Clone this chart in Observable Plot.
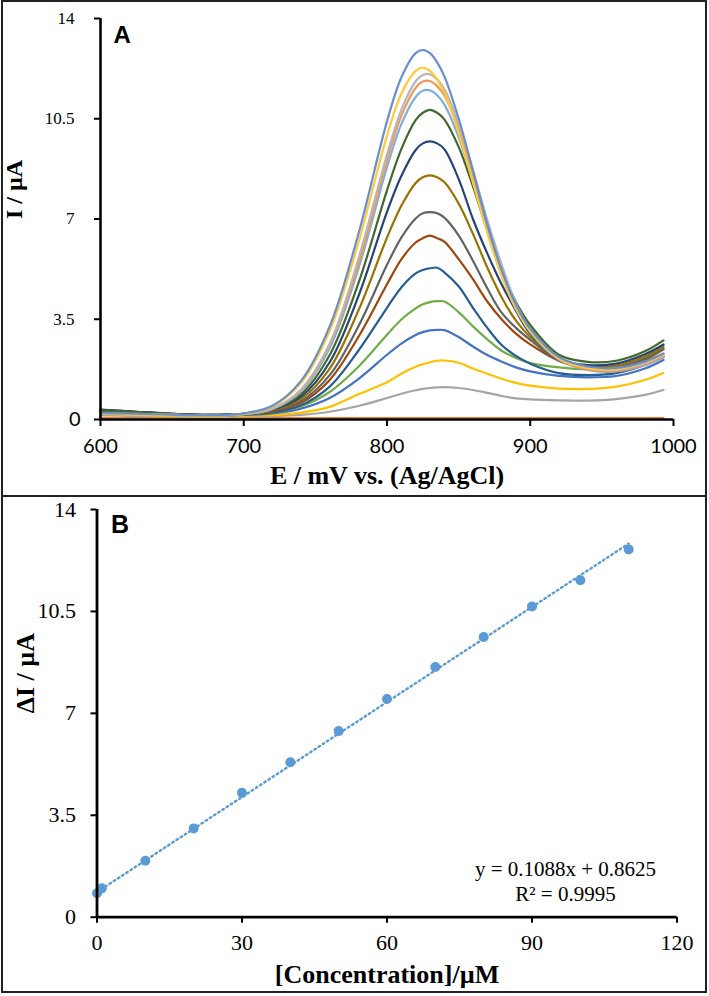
<!DOCTYPE html>
<html><head><meta charset="utf-8">
<script src="https://cdn.jsdelivr.net/npm/d3@7"></script>
<script src="https://cdn.jsdelivr.net/npm/@observablehq/plot@0.6"></script>
<style>
body{margin:0;background:#fff;}
#wrap{position:relative;width:709px;height:996px;overflow:hidden;background:#fff;}
.panel{position:absolute;left:0;width:709px;}
.box{position:absolute;border:2px solid #222;box-sizing:border-box;pointer-events:none;}
svg{overflow:visible;}
</style></head><body>
<div id="wrap">
  <div id="pa" class="panel" style="top:0px"></div>
  <div id="pb" class="panel" style="top:496px"></div>
  <div class="box" style="left:1px;top:0px;width:706px;height:497px"></div>
  <div class="box" style="left:1px;top:495px;width:706px;height:498px"></div>
</div>
<script>
// ---------- Panel A data: DPV curves (I / µA vs E / mV) ----------
const potential = [600, 625, 650, 675, 700, 720, 740, 760, 780, 800, 810, 820, 825, 830, 835, 840, 850, 860, 870, 880, 890, 900, 920, 940, 960, 980, 993];

const curveNames  = ["c16","c15","c14","c13","c12","c11","c10","c9","c8","c7","c6","c5","c4","c3","c2","c1"];
const curveColors = ["#ED7D31","#A5A5A5","#FFC000","#4472C4","#70AD47","#255E91","#9E480E","#636363","#997300","#264478","#43682B","#7CAFDD","#F1975A","#B7B7B7","#FFC93A","#698ED0"];

const c16 = [0.06, 0.06, 0.05, 0.05, 0.05, 0.05, 0.05, 0.05, 0.05, 0.05, 0.05, 0.05, 0.05, 0.05, 0.05, 0.05, 0.05, 0.05, 0.05, 0.05, 0.05, 0.05, 0.05, 0.05, 0.05, 0.05, 0.05];
const c15 = [0.15, 0.12, 0.10, 0.09, 0.10, 0.12, 0.16, 0.27, 0.47, 0.75, 0.90, 1.02, 1.07, 1.10, 1.12, 1.13, 1.10, 1.03, 0.93, 0.82, 0.74, 0.70, 0.67, 0.66, 0.71, 0.86, 1.03];
const c14 = [0.20, 0.16, 0.13, 0.11, 0.13, 0.16, 0.24, 0.44, 0.88, 1.30, 1.60, 1.84, 1.93, 2.00, 2.05, 2.06, 1.98, 1.78, 1.60, 1.42, 1.28, 1.18, 1.08, 1.07, 1.15, 1.38, 1.62];
const c13 = [0.25, 0.20, 0.16, 0.13, 0.16, 0.21, 0.38, 0.75, 1.41, 2.26, 2.65, 2.95, 3.05, 3.11, 3.13, 3.12, 2.88, 2.55, 2.25, 2.02, 1.82, 1.68, 1.52, 1.47, 1.52, 1.78, 2.08];
const c12 = [0.28, 0.22, 0.18, 0.14, 0.17, 0.24, 0.46, 0.96, 1.84, 2.96, 3.49, 3.88, 4.02, 4.10, 4.13, 4.12, 3.75, 3.25, 2.80, 2.40, 2.15, 1.97, 1.82, 1.75, 1.80, 2.05, 2.30];
const c11 = [0.30, 0.24, 0.19, 0.15, 0.18, 0.25, 0.50, 1.15, 2.40, 3.90, 4.61, 5.10, 5.22, 5.28, 5.30, 5.14, 4.65, 3.90, 3.20, 2.60, 2.22, 1.95, 1.62, 1.55, 1.62, 1.90, 2.20];
const c10 = [0.34, 0.27, 0.20, 0.16, 0.19, 0.28, 0.58, 1.38, 2.88, 4.72, 5.59, 6.18, 6.33, 6.42, 6.33, 6.21, 5.60, 4.90, 4.12, 3.50, 3.00, 2.62, 2.05, 1.80, 1.80, 2.10, 2.45];
const c9  = [0.30, 0.24, 0.19, 0.15, 0.19, 0.30, 0.64, 1.55, 3.25, 5.40, 6.35, 7.02, 7.20, 7.24, 7.20, 7.05, 6.43, 5.54, 4.58, 3.73, 3.20, 2.78, 2.05, 1.83, 1.82, 2.13, 2.48];
const c8  = [0.33, 0.26, 0.20, 0.15, 0.20, 0.32, 0.72, 1.78, 3.80, 6.35, 7.46, 8.26, 8.46, 8.52, 8.46, 8.29, 7.54, 6.48, 5.31, 4.27, 3.45, 2.88, 2.11, 1.85, 1.88, 2.20, 2.55];
const c7  = [0.35, 0.27, 0.20, 0.16, 0.20, 0.34, 0.80, 2.00, 4.30, 7.25, 8.50, 9.41, 9.64, 9.71, 9.64, 9.44, 8.40, 7.00, 5.80, 4.72, 3.80, 3.00, 2.10, 1.90, 1.95, 2.28, 2.62];
const c6  = [0.32, 0.26, 0.20, 0.16, 0.20, 0.36, 0.88, 2.25, 4.75, 8.00, 9.44, 10.45, 10.71, 10.81, 10.71, 10.48, 9.52, 8.14, 6.62, 5.23, 4.10, 3.30, 2.26, 2.01, 2.05, 2.38, 2.76];
const c5  = [0.20, 0.18, 0.16, 0.14, 0.19, 0.37, 0.98, 2.50, 5.26, 8.81, 10.31, 11.26, 11.48, 11.49, 11.32, 11.00, 9.86, 8.31, 6.67, 5.20, 3.95, 3.05, 2.09, 1.73, 1.68, 1.90, 2.15];
const c4  = [0.22, 0.20, 0.17, 0.14, 0.19, 0.38, 1.02, 2.60, 5.41, 9.06, 10.60, 11.58, 11.80, 11.82, 11.64, 11.32, 10.14, 8.54, 6.85, 5.33, 4.00, 3.10, 2.10, 1.75, 1.70, 1.93, 2.20];
const c3  = [0.20, 0.18, 0.16, 0.14, 0.19, 0.38, 1.05, 2.65, 5.60, 9.25, 10.81, 11.81, 12.03, 12.05, 11.87, 11.54, 10.33, 8.71, 6.97, 5.42, 4.05, 3.15, 2.15, 1.81, 1.74, 1.97, 2.25];
const c2  = [0.20, 0.18, 0.16, 0.14, 0.20, 0.45, 1.28, 3.10, 6.17, 9.91, 11.37, 12.17, 12.28, 12.17, 11.87, 11.42, 10.01, 8.28, 6.52, 5.01, 3.86, 3.08, 2.13, 1.80, 1.76, 2.00, 2.28];
const c1  = [0.22, 0.20, 0.17, 0.15, 0.21, 0.48, 1.35, 3.25, 6.47, 10.41, 11.94, 12.79, 12.90, 12.79, 12.47, 11.99, 10.51, 8.69, 6.82, 5.23, 4.01, 3.17, 2.18, 1.85, 1.80, 2.02, 2.30];
const curveValues = [c16, c15, c14, c13, c12, c11, c10, c9, c8, c7, c6, c5, c4, c3, c2, c1];

const xTicksA = [600, 700, 800, 900, 1000];
const yTicksA = [3.5, 7, 10.5, 14];

// ---------- Panel B data: calibration ----------
const concentration = [0, 1, 10, 20, 30, 40, 50, 60, 70, 80, 90, 100, 110];
const deltaI        = [0.82, 0.99, 1.94, 3.05, 4.27, 5.32, 6.39, 7.49, 8.59, 9.62, 10.67, 11.57, 12.63];
const trendX = [0, 110];
const trendY = [0.8625, 12.83];
const xTicksB = [0, 30, 60, 90, 120];
const yTicksB = [0, 3.5, 7, 10.5, 14];
const equation = ["y = 0.1088x + 0.8625", "R² = 0.9995"];

// ---------- Build Panel A ----------
const rowsA = [];
curveNames.forEach((n, k) => potential.forEach((E, i) => rowsA.push({E, I: curveValues[k][i], name: n})));

const serif = "'Liberation Serif','Times New Roman',serif";
const sans  = "'Liberation Sans',Arial,sans-serif";
const plain = d => String(d);

const plotA = Plot.plot({
  width: 709, height: 496,
  marginTop: 18, marginBottom: 77, marginLeft: 100, marginRight: 36,
  x: {domain: [600, 1000]},
  y: {domain: [0, 14]},
  color: {domain: curveNames, range: curveColors},
  style: {background: "transparent", color: "#000"},
  marks: [
    Plot.line(rowsA, {x: "E", y: "I", z: "name", stroke: "name", strokeWidth: 2.2, curve: "catmull-rom"}),
    Plot.ruleX([600], {stroke: "#000", strokeWidth: 2.6}),
    Plot.ruleY([0], {stroke: "#000", strokeWidth: 2.6}),
    Plot.axisX({ticks: xTicksA, tickFormat: plain, tickSize: 7, tickPadding: 12, strokeWidth: 2, fontFamily: "Lato", fontSize: 20, label: null}),
    Plot.axisY({ticks: yTicksA, tickFormat: plain, tickSize: 6, tickPadding: 20, strokeWidth: 2, fontFamily: serif, fontSize: 17, label: null}),
    Plot.axisY({ticks: [0], tickFormat: plain, tickSize: 6, tickPadding: 14, strokeWidth: 2, fontFamily: "Lato", fontSize: 20, label: null}),
    Plot.text(["A"], {text: d => d, frameAnchor: "top-left", dx: 13, dy: 17, textAnchor: "start", lineAnchor: "middle", fontFamily: sans, fontWeight: "bold", fontSize: 24, fill: "#000"}),
    Plot.text(["E / mV vs. (Ag/AgCl)"], {text: d => d, frameAnchor: "bottom", dy: 56, lineAnchor: "middle", fontFamily: serif, fontWeight: "bold", fontSize: 26, fill: "#000"}),
    Plot.text(["I / µA"], {text: d => d, frameAnchor: "left", dx: -86, rotate: -90, lineAnchor: "middle", fontFamily: serif, fontWeight: "bold", fontSize: 24, fill: "#000"})
  ]
});
document.getElementById("pa").appendChild(plotA);

// ---------- Build Panel B ----------
const pts = concentration.map((c, i) => ({c, d: deltaI[i]}));
const trend = trendX.map((x, i) => ({x, y: trendY[i]}));

const plotB = Plot.plot({
  width: 709, height: 500,
  marginTop: 13, marginBottom: 79.3, marginLeft: 96.5, marginRight: 32.5,
  x: {domain: [0, 120]},
  y: {domain: [0, 14]},
  style: {background: "transparent", color: "#000"},
  marks: [
    Plot.line(trend, {x: "x", y: "y", stroke: "#5B9BD5", strokeWidth: 2.4, strokeDasharray: "1.6,3.4", strokeLinecap: "round"}),
    Plot.dot(pts, {x: "c", y: "d", r: 5, fill: "#5B9BD5", stroke: "none"}),
    Plot.ruleX([0], {stroke: "#000", strokeWidth: 2.8}),
    Plot.ruleY([0], {stroke: "#000", strokeWidth: 2.8}),
    Plot.axisX({ticks: xTicksB, tickFormat: plain, tickSize: 6, tickPadding: 11, strokeWidth: 2, fontFamily: serif, fontSize: 22, label: null}),
    Plot.axisY({ticks: yTicksB, tickFormat: plain, tickSize: 6, tickPadding: 15, strokeWidth: 2, fontFamily: serif, fontSize: 22, label: null}),
    Plot.text(["B"], {text: d => d, frameAnchor: "top-left", dx: 14, dy: 15, textAnchor: "start", lineAnchor: "middle", fontFamily: sans, fontWeight: "bold", fontSize: 25, fill: "#000"}),
    Plot.text([equation[0]], {text: d => d, frameAnchor: "bottom-right", dx: -111.5, dy: -47.5, textAnchor: "middle", lineAnchor: "middle", fontFamily: serif, fontSize: 21, fill: "#000"}),
    Plot.text([equation[1]], {text: d => d, frameAnchor: "bottom-right", dx: -111.5, dy: -22.5, textAnchor: "middle", lineAnchor: "middle", fontFamily: serif, fontSize: 21, fill: "#000"}),
    Plot.text(["[Concentration]/µM"], {text: d => d, frameAnchor: "bottom", dy: 57, lineAnchor: "middle", fontFamily: serif, fontWeight: "bold", fontSize: 26, fill: "#000"}),
    Plot.text(["ΔI / µA"], {text: d => d, frameAnchor: "left", dx: -71.5, rotate: -90, lineAnchor: "middle", fontFamily: serif, fontWeight: "bold", fontSize: 26, fill: "#000"})
  ]
});
document.getElementById("pb").appendChild(plotB);
</script>
</body></html>
